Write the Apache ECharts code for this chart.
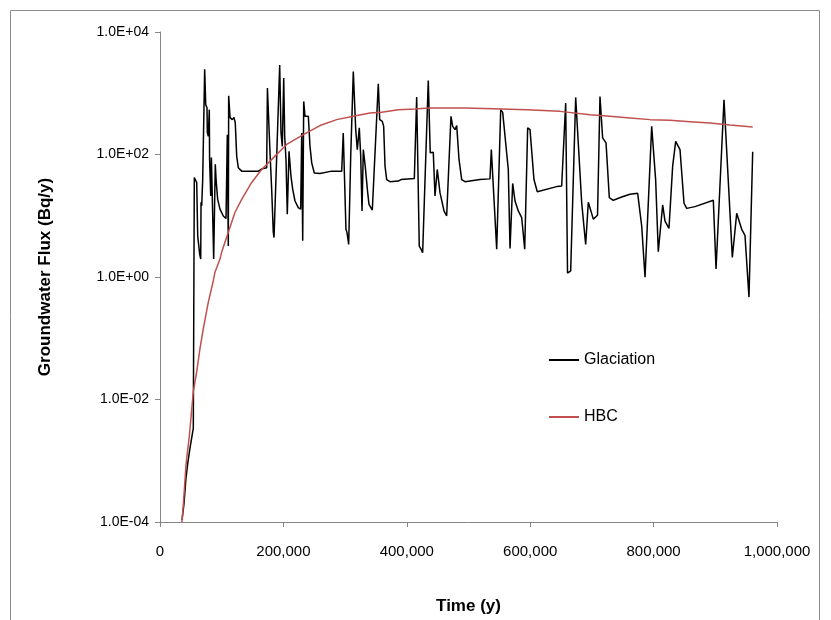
<!DOCTYPE html>
<html><head><meta charset="utf-8">
<script src="https://cdn.jsdelivr.net/npm/echarts@6/dist/echarts.min.js"></script>
<style>html,body{margin:0;padding:0;background:#fff}#c{width:831px;height:620px}</style>
</head><body><div id="c"></div>
<script>
// Time (y), Groundwater flux (Bq/y)
const glaciation = [
[35700,1.08e-4],[38900,2.0e-4],[42100,5.2e-4],[45400,9.8e-4],[48600,1.6e-3],[54000,3.4e-3],
[55600,42],[59500,34.7],[61100,4.7],[64300,2.37],[66000,1.96],[66500,16.6],[67600,14.4],[69200,39],
[72400,2470],[74100,650],[76200,581],[76700,228],[78300,199],[79900,540],[80400,83],[82200,21],
[83300,89],[87000,1.96],[89600,69],[91200,35],[93500,18.5],[97200,12.8],[102600,9.9],[107000,9.0],
[109100,211],[110700,3.2],[111300,910],[113500,400],[117200,371],[119900,404],[122000,327],[124300,94],
[126900,61],[132400,53.5],[159300,53.5],[165800,58.5],[172900,61],[174100,1217],[178300,108],[181000,27],
[183600,5.4],[184800,4.4],[194000,2900],[196100,228],[198200,136],[200500,1766],[202100,199],[204200,83],
[206300,10.6],[209100,113],[212300,44],[215100,27],[218800,17.4],[224100,13.6],[228000,12.8],[229700,225],
[231300,3.9],[232900,736],[235000,420],[240400,420],[243100,136],[245900,73],[250100,50],[259300,49],
[278300,53.5],[294500,53.5],[297000,225],[301400,6.0],[303100,5.3],[305800,3.4],[309100,94],[310700,94],
[313300,2260],[317200,255],[319800,120],[323000,272],[325300,94],[327400,12],[329500,120],[332600,64.6],
[336600,23.8],[338700,15.4],[344100,12.4],[353800,1426],[356100,371],[360300,348],[362500,288],[364700,64.6],
[367400,39],[372800,36],[386200,36.8],[390600,39],[412200,40.7],[416000,867],[420200,3.2],[423000,2.85],
[425700,2.5],[434800,1615],[438000,107],[440800,100],[442900,109],[445700,21],[449400,57],[453800,23.8],
[460300,12],[464600,9.9],[471600,420],[474400,288],[478100,255],[480900,297],[484600,83],[489000,39],
[494300,36],[518600,39],[534800,40],[537000,120],[545700,2.85],[552200,540],[555400,488],[564500,57],
[567300,2.93],[571600,33.7],[575400,17.4],[580700,12],[586200,9.35],[591100,2.85],[595900,272],[599700,255],
[606100,39],[611500,24.7],[642900,29.9],[651000,30.5],[657500,693],[660500,1.16],[665600,1.26],[673700,855],
[683400,16.6],[689900,3.4],[694200,16.6],[702300,8.8],[709100,10.2],[713100,887],[717400,187],[722900,155],
[728200,19.8],[734700,17.9],[748300,20.2],[761700,22.4],[774200,23.2],[780700,6.8],[786100,0.99],[796900,288],
[803300,39],[807600,2.58],[814700,15],[818500,8.2],[824900,6.2],[830900,64.6],[835800,164],[842800,120],
[849300,16],[853600,13.2],[867100,14.1],[896800,17.9],[901200,1.35],[914100,783],[927600,2.09],[934700,11],
[942800,6.0],[948100,4.8],[954600,0.47],[960600,111]
];
const hbc = [
[35500,1.0e-4],[37800,1.9e-4],[42100,8.6e-4],[47500,2.5e-3],[54000,1.35e-2],[59500,2.85e-2],
[64800,0.0675],[70200,0.143],[78300,0.39],[86400,0.87],[89100,1.2],[97200,1.96],[100000,2.55],
[110700,5.4],[121600,11.4],[132400,18.5],[148600,35],[164800,57],[178300,78],[186400,94],
[205300,146],[232300,211],[259300,297],[286400,371],[313300,420],[340300,476],[359300,488],
[386200,540],[413300,553],[434800,574],[494300,574],[540200,560],[594300,540],[648300,506],
[696900,447],[729300,420],[761700,395],[794200,371],[826600,361],[859000,344],[891400,327],
[923800,304],[960600,282]
];
const seriesNames = ['Glaciation','HBC'];
const xTicks = [0,200000,400000,600000,800000,1000000];
const yTicks = [1e-4,1e-2,1,1e2,1e4];

const FONT = '"Liberation Sans", Arial, sans-serif';
const chart = echarts.init(document.getElementById('c'), null, {renderer:'canvas'});
function expLabel(v){
  const e = Math.round(Math.log10(v));
  const s = e < 0 ? '-' : '+';
  const a = Math.abs(e);
  return '1.0E' + s + (a < 10 ? '0' + a : '' + a);
}
chart.setOption({
  animation:false,
  backgroundColor:'#fff',
  graphic:[{type:'rect', shape:{x:10.5,y:10.5,width:809,height:640}, style:{fill:'none', stroke:'#8c8c8c', lineWidth:1}, silent:true}],
  grid:{left:160, top:32, right:54, bottom:96, containLabel:false},
  legend:[
    {data:[seriesNames[0]], left:544, top:347, icon:'path://M0,0H30V2H0Z', itemWidth:30, itemHeight:2,
     textStyle:{fontFamily:FONT, fontSize:16, color:'#000'}},
    {data:[seriesNames[1]], left:544, top:404, icon:'path://M0,0H30V2H0Z', itemWidth:30, itemHeight:2,
     textStyle:{fontFamily:FONT, fontSize:16, color:'#000'}}
  ],
  xAxis:{
    type:'value', min:xTicks[0], max:xTicks[xTicks.length-1], interval:200000,
    name:'Time (y)', nameLocation:'middle', nameGap:76,
    nameTextStyle:{fontFamily:FONT, fontSize:17, fontWeight:'bold', color:'#000'},
    axisLine:{lineStyle:{color:'#868686', width:1}},
    axisTick:{show:true, inside:false, length:5, lineStyle:{color:'#868686'}},
    axisLabel:{fontFamily:FONT, fontSize:15, color:'#000', margin:22,
      formatter:v=>v.toLocaleString('en-US')},
    splitLine:{show:false}
  },
  yAxis:{
    type:'log', logBase:100, min:yTicks[0], max:yTicks[yTicks.length-1],
    name:'Groundwater Flux (Bq/y)', nameLocation:'middle', nameGap:106, nameRotate:90,
    nameTextStyle:{fontFamily:FONT, fontSize:17, fontWeight:'bold', color:'#000'},
    axisLine:{show:true, lineStyle:{color:'#868686', width:1}},
    axisTick:{show:true, inside:false, length:5, lineStyle:{color:'#868686'}},
    axisLabel:{fontFamily:FONT, fontSize:14, color:'#000', margin:11, formatter:expLabel},
    minorTick:{show:false}, splitLine:{show:false}
  },
  series:[
    {name:seriesNames[0], type:'line', data:glaciation, showSymbol:false, symbol:'none',
     color:'#000', lineStyle:{color:'#000', width:1.5}, z:2},
    {name:seriesNames[1], type:'line', data:hbc, showSymbol:false, symbol:'none',
     color:'#C0504D', lineStyle:{color:'#C0504D', width:1.5}, z:3}
  ]
});
</script></body></html>
